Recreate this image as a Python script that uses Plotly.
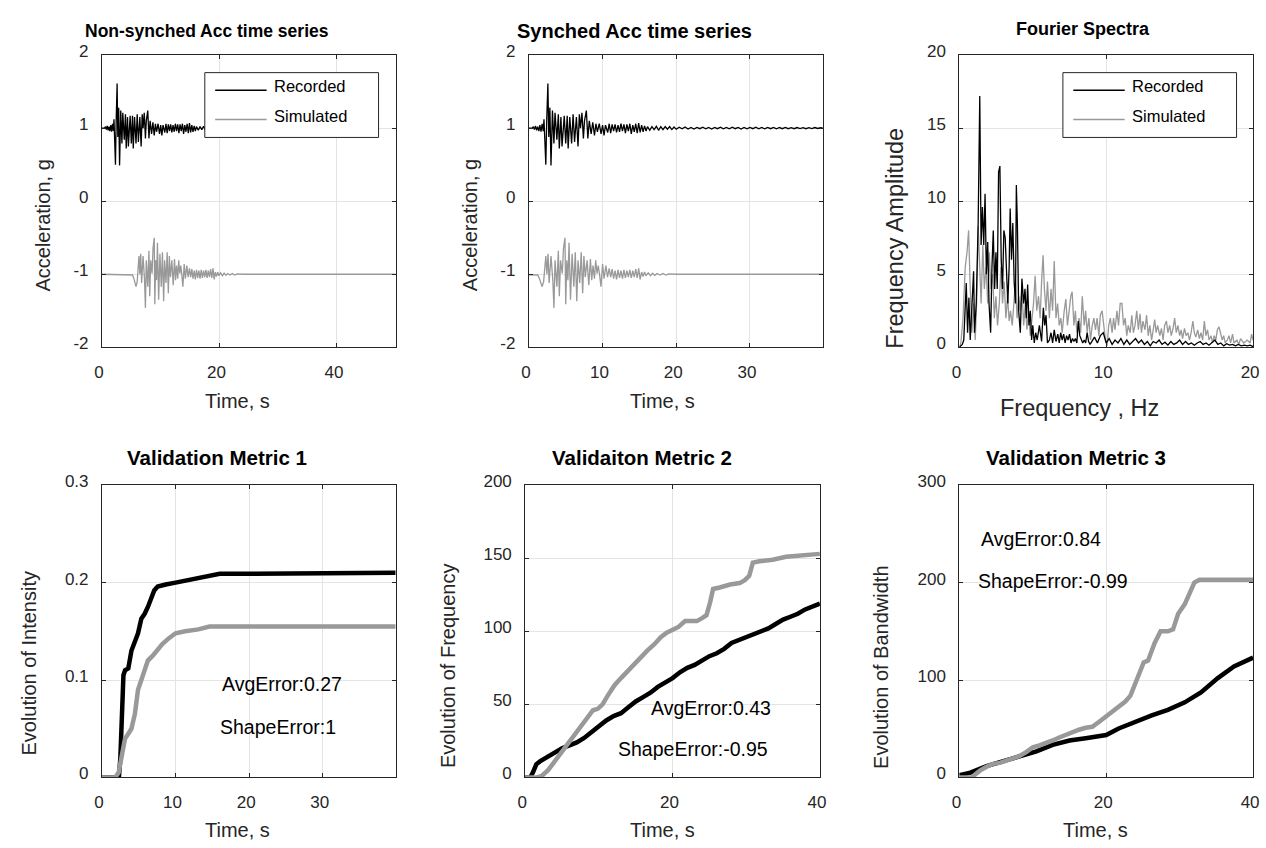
import plotly.graph_objects as go

W, H = 1266, 848
FONT = "Arial, 'Liberation Sans', Helvetica, sans-serif"
REC_COLOR = "#000000"
SIM_COLOR = "#999999"
AX_COLOR = "#262626"
GRID_COLOR = "#e4e4e4"

# ---------------- acceleration time series (deviation from offset) ----------------
rec_t = [0, 0.45, 0.6, 0.75, 0.9, 1.05, 1.2, 1.35, 1.5, 1.65, 1.8, 1.95, 2.05, 2.18, 2.3, 2.42,
         2.58, 2.7, 2.85, 3.0, 3.1, 3.2, 3.4, 3.55, 3.8, 4.0, 4.13, 4.35, 4.5, 4.8, 5.0, 5.2,
         5.33, 5.55, 5.8, 6.0, 6.2, 6.45, 6.67, 6.85, 7.0, 7.2, 7.4, 7.55, 7.8, 8.0, 8.2, 8.45,
         8.67, 8.9, 9.1, 9.3, 9.55, 9.8, 10.0, 10.2, 10.4, 10.7, 10.9, 11.1, 11.3, 11.5, 11.7,
         11.9, 12.1, 12.3, 12.5, 12.7, 12.9, 13.1, 13.3, 13.5, 13.7, 13.9, 14.1, 14.3, 14.5,
         14.7, 14.9, 15.1, 15.3, 15.5, 15.7, 15.9,
         16.1, 16.4, 16.7, 17.0, 17.3, 17.6, 17.9, 18.2, 18.5, 18.8, 19.1, 19.4, 19.7, 20.0,
         20.4, 20.8, 21.2, 21.6, 22.0, 22.4, 22.8, 23.2, 23.6, 24.0, 24.4, 24.8, 25.2, 25.6,
         26.0, 26.4, 26.8, 27.2, 27.6, 28.0, 28.4, 28.8, 29.2, 29.6, 30.0, 30.4, 30.8, 31.2,
         31.6, 32.0, 32.4, 32.8, 33.2, 33.6, 34.0, 34.4, 34.8, 35.2, 35.6, 36.0, 36.4, 36.8,
         37.2, 37.6, 38.0, 38.4, 38.8, 39.2, 39.6, 39.9]
rec_acc = [0, 0, 0.02, -0.02, 0.03, -0.03, 0.02, -0.04, 0.04, -0.05, 0.06, -0.04, 0.12, -0.14,
           -0.5, 0.1, 0.61, -0.12, 0.28, -0.51, -0.05, 0.24, -0.21, 0.21, -0.16, 0.19, -0.28,
           0.15, -0.25, 0.17, -0.21, 0.17, -0.28, 0.15, -0.21, 0.19, -0.19, 0.15, -0.25, 0.19,
           0.0, 0.21, -0.14, 0.1, 0.24, -0.14, 0.1, -0.08, 0.08, -0.1, 0.06, -0.05, 0.06, -0.08,
           0.04, -0.1, 0.04, -0.06, 0.06, -0.07, 0.05, -0.04, 0.05, -0.06, 0.04, -0.05, 0.06,
           -0.04, 0.05, -0.07, 0.05, -0.04, 0.06, -0.08, 0.04, -0.05, 0.06, -0.07, 0.07, -0.06,
           0.04, -0.05, 0.03, -0.04,
           0.02, -0.03, 0.02, -0.02, 0.025, -0.03, 0.02, -0.02, 0.02, -0.015, 0.02, -0.02,
           0.015, -0.015, 0.012, -0.01, 0.015, -0.012, 0.01, -0.012, 0.01, -0.008, 0.012, -0.01,
           0.008, -0.012, 0.01, -0.008, 0.012, -0.01, 0.008, -0.01, 0.012, -0.008, 0.01, -0.012,
           0.008, -0.01, 0.01, -0.008, 0.012, -0.01, 0.008, -0.01, 0.01, -0.008, 0.01, -0.01,
           0.008, -0.008, 0.01, -0.008, 0.006, -0.008, 0.008, -0.006, 0.006, -0.008, 0.006,
           -0.006, 0.008, -0.005, 0.005, 0]

# simulated record, time axis already synchronised (non-synched = t + SIM_DELAY)
sim_t = [-4.0, 1.0, 1.2, 1.4, 1.6, 1.8, 2.0, 2.15, 2.3, 2.45, 2.6, 2.75, 3.0, 3.25, 3.4, 3.55,
         3.8, 4.0, 4.13, 4.3, 4.53, 4.7, 4.9, 5.0, 5.15, 5.3, 5.45, 5.65, 5.87, 6.1, 6.3, 6.5,
         6.67, 6.9, 7.1, 7.3, 7.47, 7.65, 7.9, 8.13, 8.35, 8.53, 8.7, 8.9, 9.07, 9.25, 9.42,
         9.6, 9.78, 10.0, 10.2, 10.45, 10.67, 10.9, 11.1, 11.3, 11.5, 11.7, 11.9, 12.1, 12.3,
         12.5, 12.7, 12.9, 13.1, 13.3, 13.5, 13.7, 13.9, 14.1, 14.3, 14.5, 14.7, 14.9, 15.1,
         15.3, 15.5, 15.7, 15.9, 16.2, 16.5, 16.8, 17.1, 17.4, 17.8, 18.2, 18.6, 19.0, 20.0, 46.0]
sim_acc = [0, 0, -0.01, -0.05, -0.12, -0.17, -0.1, 0.05, 0.25, 0.0, 0.28, -0.12, 0.25, -0.08,
           -0.46, 0.19, -0.17, 0.32, -0.3, 0.19, 0.01, 0.36, 0.5, -0.41, 0.19, -0.08, 0.43,
           -0.35, 0.28, -0.17, 0.3, -0.37, 0.19, -0.12, 0.3, -0.26, 0.25, -0.04, 0.19, -0.15,
           0.21, -0.08, 0.12, -0.06, 0.19, 0.01, 0.12, -0.01, -0.17, 0.14, -0.06, 0.12, -0.04,
           0.08, -0.04, 0.07, -0.06, 0.05, -0.07, 0.06, -0.05, 0.05, -0.06, 0.06, -0.05, 0.05,
           -0.04, 0.06, -0.05, 0.05, -0.04, 0.07, -0.05, 0.08, -0.07, 0.03, -0.03, 0.03, -0.02,
           0.02, -0.02, 0.015, -0.015, 0.01, -0.01, 0.01, -0.01, 0.005, 0, 0]

REC_OFFSET = 1.0
SIM_OFFSET = -1.0
SIM_DELAY = 4.0

# ---------------- Fourier spectra ----------------
rec_f = [0, 0.1, 0.2, 0.3, 0.4, 0.47, 0.56, 0.65, 0.74, 0.85, 0.97, 1.03, 1.15, 1.28, 1.39,
         1.48, 1.57, 1.66, 1.75, 1.84, 1.93, 2.02, 2.13, 2.22, 2.31, 2.4, 2.49, 2.58, 2.67,
         2.76, 2.85, 2.94, 3.03, 3.12, 3.21, 3.3, 3.39, 3.46, 3.55, 3.64, 3.73, 3.82, 3.88,
         3.95, 4.04, 4.15, 4.26, 4.38, 4.47, 4.56, 4.65, 4.74, 4.83, 4.92, 5.0, 5.1, 5.2, 5.3,
         5.45, 5.6, 5.72, 5.81, 5.9, 6.0, 6.13, 6.24, 6.35, 6.46, 6.58, 6.7, 6.8, 6.9, 7.0,
         7.1, 7.2, 7.3, 7.4, 7.5, 7.6, 7.7, 7.8, 7.9, 8.0, 8.1, 8.2, 8.3, 8.4, 8.5, 8.6, 8.7,
         8.8, 8.9, 9.0, 9.2, 9.4, 9.6, 9.8, 10.0, 10.2, 10.4, 10.6, 10.8, 11.0, 11.2, 11.4,
         11.6, 11.8, 12.0, 12.2, 12.4, 12.6, 12.8, 13.0, 13.2, 13.4, 13.6, 13.8, 14.0, 14.2,
         14.4, 14.6, 14.8, 15.0, 15.2, 15.4, 15.6, 15.8, 16.0, 16.2, 16.4, 16.6, 16.8, 17.0,
         17.2, 17.4, 17.6, 17.8, 18.0, 18.2, 18.4, 18.6, 18.8, 19.0, 19.2, 19.4, 19.6, 19.8, 20.0]
rec_amp = [0, 0.1, 0.2, 0.5, 2.5, 4.4, 1.0, 3.4, 0.5, 3.0, 5.2, 1.0, 3.0, 8.5, 17.2, 7.0, 9.6,
           7.0, 10.5, 5.0, 7.2, 3.0, 1.0, 5.5, 8.0, 4.0, 6.5, 4.0, 12.0, 12.4, 6.0, 4.0, 8.0,
           7.5, 5.0, 3.0, 5.5, 9.5, 6.0, 8.5, 4.5, 3.0, 11.1, 8.5, 2.5, 1.0, 4.7, 3.0, 4.0, 2.0,
           4.3, 1.5, 2.5, 0.5, 1.5, 0.3, 1.0, 0.5, 1.5, 0.4, 2.7, 1.5, 2.2, 0.3, 0.5, 1.0, 0.3,
           1.2, 0.4, 0.9, 0.3, 1.0, 0.5, 0.9, 0.3, 0.8, 0.5, 0.9, 0.3, 0.6, 0.4, 0.6, 0.3, 1.8,
           0.8, 0.5, 0.3, 0.5, 0.3, 1.0, 0.4, 0.2, 0.4, 0.7, 0.3, 0.8, 1.0, 0.3, 0.6, 0.2, 0.5,
           0.3, 0.6, 0.2, 0.5, 0.2, 0.4, 0.6, 0.3, 0.5, 0.2, 0.4, 0.1, 0.4, 0.3, 0.5, 0.2, 0.35,
           0.15, 0.4, 0.2, 0.3, 0.5, 0.2, 0.4, 0.2, 0.3, 0.15, 0.3, 0.4, 0.2, 0.3, 0.15, 0.3,
           0.5, 0.2, 0.3, 0.1, 0.25, 0.15, 0.2, 0.1, 0.2, 0.1, 0.15, 0.1, 0.15, 0.05]

sim_f = [0, 0.1, 0.25, 0.4, 0.52, 0.63, 0.74, 0.85, 0.97, 1.08, 1.19, 1.28, 1.37, 1.48, 1.6,
         1.7, 1.82, 1.93, 2.04, 2.15, 2.27, 2.38, 2.49, 2.6, 2.72, 2.83, 2.94, 3.05, 3.17, 3.28,
         3.39, 3.48, 3.6, 3.7, 3.82, 3.93, 4.04, 4.15, 4.26, 4.38, 4.49, 4.6, 4.71, 4.83, 4.94,
         5.05, 5.16, 5.27, 5.39, 5.5, 5.6, 5.7, 5.79, 5.9, 6.0, 6.13, 6.24, 6.35, 6.46, 6.58,
         6.69, 6.8, 6.91, 7.0, 7.14, 7.25, 7.36, 7.47, 7.59, 7.68, 7.8, 7.9, 8.0, 8.15, 8.26,
         8.37, 8.5, 8.6, 8.7, 8.82, 8.93, 9.05, 9.16, 9.27, 9.38, 9.5, 9.6, 9.72, 9.83, 9.95,
         10.06, 10.17, 10.28, 10.4, 10.5, 10.6, 10.73, 10.84, 10.95, 11.07, 11.18, 11.29, 11.4,
         11.5, 11.63, 11.74, 11.85, 11.96, 12.08, 12.19, 12.3, 12.4, 12.5, 12.64, 12.75, 12.86,
         12.97, 13.09, 13.2, 13.3, 13.4, 13.5, 13.65, 13.76, 13.87, 13.98, 14.1, 14.2, 14.32,
         14.43, 14.55, 14.66, 14.77, 14.88, 15.0, 15.1, 15.2, 15.33, 15.44, 15.56, 15.67, 15.78,
         15.9, 16.0, 16.1, 16.23, 16.34, 16.45, 16.57, 16.68, 16.79, 16.9, 17.0, 17.13, 17.24,
         17.35, 17.46, 17.57, 17.68, 17.8, 17.9, 18.0, 18.1, 18.25, 18.36, 18.47, 18.6, 18.7,
         18.9, 19.03, 19.15, 19.37, 19.6, 19.8, 19.9, 20.0]
sim_amp = [0, 0.3, 2.0, 5.5, 6.5, 8.0, 4.0, 1.0, 3.0, 0.5, 3.5, 8.3, 6.0, 3.0, 7.0, 4.0, 5.5,
           3.0, 6.5, 4.0, 5.0, 2.0, 3.5, 1.5, 3.0, 5.5, 3.0, 4.5, 2.0, 3.5, 1.8, 2.5, 1.5, 3.0,
           4.5, 2.0, 3.5, 2.5, 4.0, 1.5, 3.0, 1.2, 2.5, 0.8, 2.0, 3.0, 4.9, 2.5, 3.5, 2.0, 4.5,
           6.3, 4.0, 2.5, 4.5, 2.0, 4.0, 2.5, 5.9, 2.0, 3.0, 1.5, 2.0, 1.0, 2.5, 3.3, 1.5, 2.5,
           3.5, 3.8, 1.5, 2.5, 1.0, 2.0, 1.0, 3.5, 1.5, 2.5, 1.0, 2.0, 0.5, 1.5, 2.0, 1.2, 2.0,
           0.8, 2.2, 2.5, 1.5, 0.5, 0.1, 1.5, 2.0, 1.0, 2.0, 1.2, 2.5, 1.5, 3.0, 3.0, 1.5, 2.0,
           0.8, 1.5, 1.0, 2.2, 1.0, 1.5, 2.5, 1.2, 2.3, 1.0, 1.8, 1.2, 2.2, 0.8, 1.5, 0.5, 1.2,
           1.9, 1.0, 1.5, 0.8, 1.3, 0.5, 1.5, 1.8, 1.0, 1.5, 0.8, 1.3, 2.0, 1.0, 1.5, 0.8, 1.2,
           0.6, 1.3, 0.8, 1.0, 0.5, 1.0, 1.8, 1.0, 0.7, 1.2, 0.6, 1.0, 0.5, 1.8, 0.8, 1.2, 0.5,
           0.8, 0.3, 0.8, 0.5, 1.2, 1.4, 0.8, 0.5, 0.8, 0.3, 0.5, 0.8, 0.3, 0.9, 0.3, 0.5, 0.2,
           0.6, 0.3, 0.5, 0.3, 0.9, 0.5]

# ---------------- validation metrics ----------------
m1_t_rec = [0, 2.3, 2.5, 2.7, 2.92, 3.14, 3.58, 4.0, 4.47, 4.9, 5.35, 5.8, 6.24, 6.7, 7.1,
            7.57, 8.0, 8.67, 10, 11.3, 12.65, 14.4, 16, 18.4, 39.9]
m1_rec = [0, 0, 0.02, 0.07, 0.105, 0.11, 0.112, 0.13, 0.14, 0.148, 0.163, 0.168, 0.175,
          0.185, 0.192, 0.196, 0.197, 0.198, 0.2, 0.202, 0.204, 0.206, 0.209, 0.209, 0.21]
m1_t_sim = [0, 1.8, 2.26, 2.7, 3.14, 3.58, 4.0, 4.47, 4.9, 5.35, 5.8, 6.24, 6.9, 7.57, 8.2,
            9.1, 10, 11.3, 13.1, 14.6, 39.9]
m1_sim = [0, 0, 0.005, 0.02, 0.04, 0.045, 0.05, 0.065, 0.09, 0.1, 0.11, 0.12, 0.125, 0.132,
          0.137, 0.143, 0.148, 0.15, 0.152, 0.155, 0.155]

m2_t = [0, 0.7, 1.1, 1.5, 2, 3, 4, 5, 6, 7, 8, 9, 10, 11, 12, 13, 14, 15, 16, 17, 18, 19, 20,
        21, 22, 23, 24, 25, 26, 27, 28, 29, 30, 31, 32, 33, 34, 35, 36, 37, 38, 39, 40]
m2_rec = [0, 0, 4, 9, 11, 14, 17, 20, 22, 24, 27, 31, 35, 39, 42, 44, 48, 52, 55, 58, 62, 65,
          68, 72, 75, 77, 80, 83, 85, 88, 92, 94, 96, 98, 100, 102, 105, 108, 110, 112, 115,
          117, 119]
m2_t_sim = [0, 1.57, 2.24, 3.1, 4.0, 4.9, 5.8, 6.7, 7.6, 8.5, 9.2, 9.85, 10.5, 11.2, 12.1,
            13.0, 13.9, 14.8, 15.7, 16.6, 17.5, 18.4, 19.2, 20, 20.8, 21.7, 23.3, 24.0, 24.6,
            25.1, 25.5, 26.4, 27.8, 29.1, 29.8, 30.4, 30.9, 31.8, 33.6, 35.4, 37.2, 40]
m2_sim = [0, 0, 1, 5, 11, 17, 24, 30, 36, 42, 46, 47, 50, 56, 63, 68, 73, 78, 82, 87, 91, 96,
          99, 101, 103, 107, 107, 109, 111, 120, 129, 130, 132, 133, 135, 138, 147, 148, 149,
          151, 152, 153]

m3_t_rec = [0, 1.5, 3.7, 6.0, 8.2, 10.5, 12.7, 15.0, 17.2, 20, 21.7, 23.9, 26.2, 28.4, 30.7,
            32.9, 35.2, 37.4, 39.6, 40]
m3_rec = [2.3, 5, 11.7, 16.8, 21.8, 26.8, 33.5, 37.9, 40.2, 43.6, 50.3, 57, 63.7, 69.4, 77.1,
          87.2, 102, 114, 122, 123]
m3_t_sim = [0, 1.0, 1.7, 2.15, 2.8, 3.7, 4.6, 5.5, 6.4, 7.3, 8.2, 9.1, 10, 10.9, 11.8, 12.7,
            13.6, 14.5, 15.4, 16.3, 17.2, 18.1, 19, 20, 20.8, 21.7, 22.6, 23.3, 23.9, 24.6,
            25.1, 25.7, 26.6, 27.4, 28.4, 29.1, 29.8, 30.7, 31.3, 32.0, 32.7, 40]
m3_sim = [0, 0, 0, 3, 7, 11, 14, 15, 17, 19, 22, 26, 31, 33, 35, 38, 41, 44, 47, 49, 51, 52,
          57, 63, 68, 74, 78, 84, 95, 108, 118, 120, 138, 150, 150, 152, 168, 178, 188, 200,
          203, 203]

metric_text = {
    4: [("AvgError:0.27", 16.1, 0.0957), ("ShapeError:1", 15.75, 0.052)],
    5: [("AvgError:0.43", 16.8, 47.7), ("ShapeError:-0.95", 12.35, 19.2)],
    6: [("AvgError:0.84", 2.65, 244.5), ("ShapeError:-0.99", 2.2, 201.7)],
}

for a, b in [(rec_t, rec_acc), (sim_t, sim_acc), (rec_f, rec_amp), (sim_f, sim_amp),
             (m1_t_rec, m1_rec), (m1_t_sim, m1_sim), (m2_t, m2_rec), (m2_t_sim, m2_sim),
             (m3_t_rec, m3_rec), (m3_t_sim, m3_sim)]:
    assert len(a) == len(b), (len(a), len(b))

# ---------------- layout (pixels) ----------------
def px(x):
    return x / W


def py(y):
    return 1 - y / H


TOP = (43, 342)
BOT = (483, 782)
ACC_TICKS = [-2, -1, 0, 1, 2]
panels = {
    1: dict(x=(95, 392), y=TOP, xr=[0, 50], xt=[0, 20, 40], yr=[-2, 2], yt=ACC_TICKS),
    2: dict(x=(526.7, 824), y=TOP, xr=[0, 39.9], xt=[0, 10, 20, 30], yr=[-2, 2], yt=ACC_TICKS),
    3: dict(x=(962, 1259), y=TOP, xr=[0, 20], xt=[0, 10, 20], yr=[0, 20], yt=[0, 5, 10, 15, 20]),
    4: dict(x=(95, 392), y=BOT, xr=[0, 39.9], xt=[0, 10, 20, 30], yr=[0, 0.3], yt=[0, 0.1, 0.2, 0.3]),
    5: dict(x=(523, 821), y=BOT, xr=[0, 40], xt=[0, 20, 40], yr=[0, 200], yt=[0, 50, 100, 150, 200]),
    6: dict(x=(962, 1259), y=BOT, xr=[0, 40], xt=[0, 20, 40], yr=[0, 300], yt=[0, 100, 200, 300]),
}

fig = go.Figure()


def add_line(i, x, y, color, width):
    fig.add_trace(go.Scatter(
        x=x, y=y, mode="lines", line=dict(color=color, width=width),
        xaxis="x" if i == 1 else f"x{i}", yaxis="y" if i == 1 else f"y{i}",
        showlegend=False, hoverinfo="skip"))


add_line(1, [t + SIM_DELAY for t in sim_t], [a + SIM_OFFSET for a in sim_acc], SIM_COLOR, 1.3)
add_line(1, rec_t, [a + REC_OFFSET for a in rec_acc], REC_COLOR, 1.3)
add_line(2, sim_t, [a + SIM_OFFSET for a in sim_acc], SIM_COLOR, 1.3)
add_line(2, rec_t, [a + REC_OFFSET for a in rec_acc], REC_COLOR, 1.3)
add_line(3, sim_f, sim_amp, SIM_COLOR, 1.3)
add_line(3, rec_f, rec_amp, REC_COLOR, 1.3)
add_line(4, m1_t_rec, m1_rec, REC_COLOR, 4.5)
add_line(4, m1_t_sim, m1_sim, SIM_COLOR, 4.5)
add_line(5, m2_t, m2_rec, REC_COLOR, 4.5)
add_line(5, m2_t_sim, m2_sim, SIM_COLOR, 4.5)
add_line(6, m3_t_rec, m3_rec, REC_COLOR, 4.5)
add_line(6, m3_t_sim, m3_sim, SIM_COLOR, 4.5)


def fmt(v):
    return f"{v:g}"


layout = dict(
    width=W, height=H, margin=dict(l=0, r=0, t=0, b=0),
    paper_bgcolor="white", plot_bgcolor="white", showlegend=False,
    font=dict(family=FONT, color=AX_COLOR),
)
for i, p in panels.items():
    common = dict(
        showline=True, linecolor=AX_COLOR, linewidth=1, mirror="ticks",
        ticks="inside", ticklen=4, tickcolor=AX_COLOR, tickwidth=1,
        showgrid=True, gridcolor=GRID_COLOR, gridwidth=1, zeroline=False,
        tickfont=dict(family=FONT, size=17, color=AX_COLOR), fixedrange=True,
        tickmode="array",
    )
    xa = dict(common, domain=[px(p["x"][0]), px(p["x"][1])], range=p["xr"],
              tickvals=p["xt"], ticktext=[fmt(v) for v in p["xt"]],
              anchor="y" if i == 1 else f"y{i}",
              ticklabelstandoff=9, ticklabelshift=-3)
    ya = dict(common, domain=[py(p["y"][1]), py(p["y"][0])], range=p["yr"],
              tickvals=p["yt"], ticktext=[fmt(v) for v in p["yt"]],
              anchor="x" if i == 1 else f"x{i}",
              ticklabelstandoff=9, ticklabelshift=-4)
    layout["xaxis" if i == 1 else f"xaxis{i}"] = xa
    layout["yaxis" if i == 1 else f"yaxis{i}"] = ya

annotations = []


def txt(text, x, y, size, bold=False, angle=0, xanchor="center", color="black"):
    annotations.append(dict(
        text=f"<b>{text}</b>" if bold else text, x=px(x), y=py(y), xref="paper", yref="paper",
        xanchor=xanchor, yanchor="middle", showarrow=False, textangle=angle,
        font=dict(family=FONT, size=size, color=color)))


# subplot titles
txt("Non-synched Acc time series", 201, 18.5, 17.5, bold=True)
txt("Synched Acc time series", 633.7, 18.5, 20, bold=True)
txt("Fourier Spectra", 1087, 16.2, 18, bold=True)
txt("Validation Metric 1", 211.7, 455, 20.5, bold=True)
txt("Validaiton Metric 2", 641.3, 455, 20.5, bold=True)
txt("Validation Metric 3", 1080, 455, 20.5, bold=True)

# axis titles
txt("Time, s", 232, 397, 20, color=AX_COLOR)
txt("Time, s", 662, 397, 20, color=AX_COLOR)
txt("Frequency , Hz", 1083.6, 404, 23.5, color=AX_COLOR)
txt("Time, s", 231.7, 836, 20, color=AX_COLOR)
txt("Time, s", 661.7, 836, 20, color=AX_COLOR)
txt("Time, s", 1100, 836, 20, color=AX_COLOR)
txt("Acceleration, g", 35.3, 217.5, 20, angle=-90, color=AX_COLOR)
txt("Acceleration, g", 466.7, 217.5, 20, angle=-90, color=AX_COLOR)
txt("Frequency Amplitude", 896.7, 230, 23.5, angle=-90, color=AX_COLOR)
txt("Evolution of Intensity", 21.7, 665, 20, angle=-90, color=AX_COLOR)
txt("Evolution of Frequency", 445, 668, 20, angle=-90, color=AX_COLOR)
txt("Evolution of Bandwidth", 882.7, 669, 20, angle=-90, color=AX_COLOR)

# metric texts in data coordinates
for i, items in metric_text.items():
    for text, x, y in items:
        annotations.append(dict(
            text=text, x=x, y=y, xref=f"x{i}", yref=f"y{i}", xanchor="left", yanchor="middle",
            showarrow=False, font=dict(family=FONT, size=19.5, color="black")))

# custom legends (box, line samples, labels)
shapes = []
for (bx0, bx1) in [(199, 374.7), (1066.7, 1242.3)]:
    by0, by1 = 61, 127.3
    shapes.append(dict(type="rect", xref="paper", yref="paper", x0=px(bx0), x1=px(bx1),
                       y0=py(by1), y1=py(by0), fillcolor="white",
                       line=dict(color=AX_COLOR, width=1), layer="above"))
    lx0 = bx0 + 10.5
    lx1 = lx0 + 52
    for ly, col, lab, ty in [(79, REC_COLOR, "Recorded", 74.5), (109, SIM_COLOR, "Simulated", 105.5)]:
        shapes.append(dict(type="line", xref="paper", yref="paper", x0=px(lx0), x1=px(lx1),
                           y0=py(ly), y1=py(ly), line=dict(color=col, width=1.5), layer="above"))
        txt(lab, lx1 + 5.5, ty, 16.5, xanchor="left", color="black")

layout["annotations"] = annotations
layout["shapes"] = shapes
fig.update_layout(**layout)
fig.write_html("out.html")
